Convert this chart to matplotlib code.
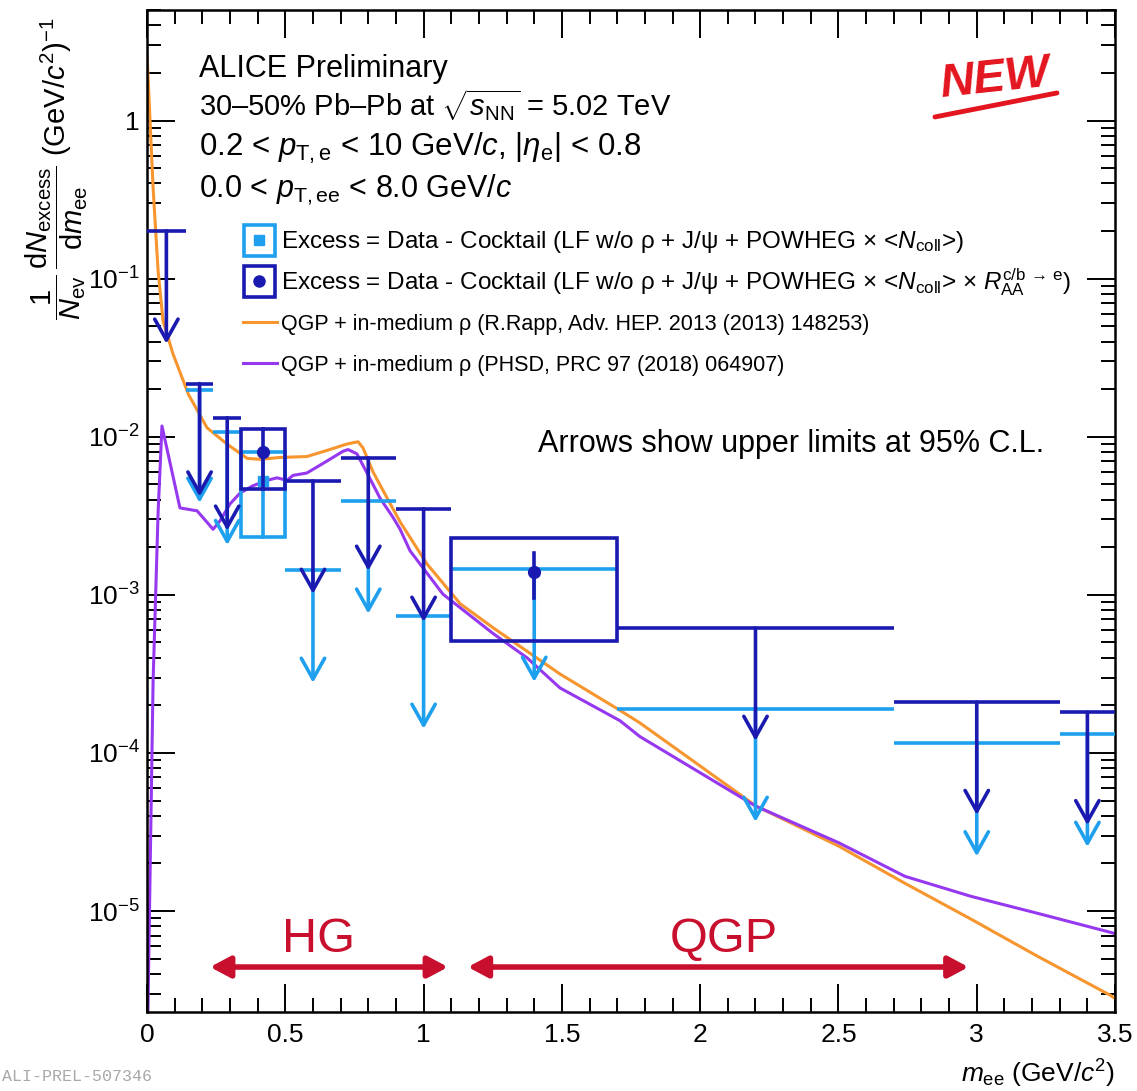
import numpy as np
import matplotlib
matplotlib.use("Agg")
import matplotlib.pyplot as plt
from matplotlib.patches import Rectangle
from matplotlib.lines import Line2D
from matplotlib.ticker import MultipleLocator, LogLocator, FuncFormatter, NullFormatter
import matplotlib.patheffects as pe

plt.rcParams["font.family"] = ["Liberation Sans", "DejaVu Sans"]
plt.rcParams["mathtext.fontset"] = "custom"
plt.rcParams["mathtext.rm"] = "Liberation Sans"
plt.rcParams["mathtext.it"] = "Liberation Sans:italic"
plt.rcParams["mathtext.bf"] = "Liberation Sans:bold"
plt.rcParams["mathtext.sf"] = "Liberation Sans"

# ---------------------------------------------------------------- data
# invariant-mass bins (GeV/c^2)
bin_lo = [0.00, 0.14, 0.24, 0.34, 0.50, 0.70, 0.90, 1.10, 1.70, 2.70, 3.30]
bin_hi = [0.14, 0.24, 0.34, 0.50, 0.70, 0.90, 1.10, 1.70, 2.70, 3.30, 3.50]
bin_ctr = [0.07, 0.19, 0.29, 0.42, 0.60, 0.80, 1.00, 1.40, 2.20, 3.00, 3.40]

nan = np.nan
# 95% C.L. upper limits (NaN where a value is measured)
ul_pow = [nan, 0.0198, 0.0107, nan, 0.00144, 0.00394, 0.000737, 0.00146, 0.000190, 0.000115, 0.000132]
ul_raa = [0.201, 0.0217, 0.0132, nan, 0.00526, 0.00736, 0.00350, nan, 0.000618, 0.000210, 0.000181]

# measured excess points: bin index, value, stat. band, syst. box
meas_pow_bin = [3]
meas_pow_val = [0.00526]
meas_pow_stat_lo = [0.00232]
meas_pow_stat_hi = [0.0080]
meas_pow_sys_lo = [0.00232]
meas_pow_sys_hi = [0.0080]

meas_raa_bin = [3, 7]
meas_raa_val = [0.0080, 0.00139]
meas_raa_stat_lo = [0.0047, 0.00096]
meas_raa_stat_hi = [0.0112, 0.00184]
meas_raa_sys_lo = [0.00468, 0.000512]
meas_raa_sys_hi = [0.0112, 0.00229]

# model curves
rapp_m = [0.0, 0.011, 0.022, 0.040, 0.058, 0.094, 0.15, 0.217, 0.289, 0.362, 0.409,
          0.481, 0.578, 0.651, 0.723, 0.763, 0.781, 0.817, 0.868, 0.915, 1.012,
          1.132, 1.251, 1.374, 1.493, 1.71, 1.782, 2.202, 2.502, 2.74, 2.979,
          3.218, 3.482, 3.5]
rapp_y = [2.65, 0.99, 0.376, 0.112, 0.054, 0.0334, 0.0185, 0.0114, 0.0090, 0.0073, 0.0072,
          0.0074, 0.0075, 0.0082, 0.0090, 0.0093, 0.0085, 0.0060, 0.0041, 0.0029, 0.00157,
          0.00088, 0.00062, 0.00044, 0.000316, 0.000186, 0.000155, 4.62e-5, 2.57e-5, 1.5e-5, 8.9e-6,
          5.2e-6, 2.94e-6, 2.8e-6]

phsd_m = [0.0, 0.004, 0.022, 0.040, 0.054, 0.119, 0.181, 0.239, 0.264, 0.300, 0.336,
          0.383, 0.434, 0.470, 0.506, 0.528, 0.578, 0.625, 0.672, 0.709, 0.727,
          0.759, 0.817, 0.842, 0.889, 0.915, 0.951, 1.070, 1.251, 1.374, 1.493,
          1.71, 1.782, 2.2, 2.502, 2.74, 2.979, 3.218, 3.482, 3.5]
phsd_y = [1e-6, 2.8e-6, 2.85e-4, 3.3e-3, 0.0117, 0.00355, 0.0034, 0.0026, 0.00294, 0.00376, 0.0044,
          0.0049, 0.0053, 0.0055, 0.0053, 0.0057, 0.0059, 0.0066, 0.0074, 0.0081, 0.0083,
          0.0078, 0.0050, 0.0041, 0.0031, 0.0026, 0.0019, 0.00101, 0.00057, 0.00040, 0.000258,
          0.000160, 0.000127, 4.62e-5, 2.7e-5, 1.66e-5, 1.24e-5, 9.7e-6, 7.35e-6, 7.2e-6]

# ---------------------------------------------------------------- style
C_POW = "#1ea0ee"
C_RAA = "#1a1ab0"
C_RAPP = "#f7952e"
C_PHSD = "#9638f0"
C_RED = "#c8102e"
LW = 2.6
ARROW_FACTOR = 0.193   # arrow tip = limit * factor (fixed length on log axis)

fig = plt.figure(figsize=(11.37, 10.91), dpi=100)
ax = fig.add_axes([0.1293, 0.0724, 0.8514, 0.9184])
ax.set_xlim(0, 3.5)
ax.set_yscale("log")
ax.set_ylim(2.3e-6, 5.0)

# model curves
ax.plot(rapp_m, rapp_y, color=C_RAPP, lw=2.2, zorder=2)
ax.plot(phsd_m, phsd_y, color=C_PHSD, lw=2.2, zorder=2)


def draw_limits(limits, color, z):
    for lo, hi, xc, cap in zip(bin_lo, bin_hi, bin_ctr, limits):
        if np.isnan(cap):
            continue
        ax.plot([lo, hi], [cap, cap], color=color, lw=LW, solid_capstyle="butt", zorder=z)
        ax.annotate("", xy=(xc, cap * ARROW_FACTOR), xytext=(xc, cap),
                    arrowprops=dict(arrowstyle="->,head_length=0.75,head_width=0.42",
                                    color=color, lw=LW, shrinkA=0, shrinkB=0,
                                    mutation_scale=20),
                    zorder=z)


def draw_measured(bins, vals, slo, shi, ylo, yhi, color, marker, ms, z):
    for b, v, s0, s1, y0, y1 in zip(bins, vals, slo, shi, ylo, yhi):
        lo, hi, xc = bin_lo[b], bin_hi[b], bin_ctr[b]
        ax.add_patch(Rectangle((lo, y0), hi - lo, y1 - y0, fill=False,
                               ec=color, lw=LW, zorder=z))
        ax.plot([xc, xc], [s0, s1], color=color, lw=LW, zorder=z)
        ax.plot([xc], [v], marker=marker, ms=ms, color=color, mec=color, zorder=z + 0.1)


draw_limits(ul_pow, C_POW, 3)
draw_measured(meas_pow_bin, meas_pow_val, meas_pow_stat_lo, meas_pow_stat_hi,
              meas_pow_sys_lo, meas_pow_sys_hi, C_POW, "s", 7, 3)
draw_limits(ul_raa, C_RAA, 4)
draw_measured(meas_raa_bin, meas_raa_val, meas_raa_stat_lo, meas_raa_stat_hi,
              meas_raa_sys_lo, meas_raa_sys_hi, C_RAA, "o", 8.5, 4)

# ---------------------------------------------------------------- axes
ax.xaxis.set_major_locator(MultipleLocator(0.5))
ax.xaxis.set_minor_locator(MultipleLocator(0.1))
ax.xaxis.set_major_formatter(FuncFormatter(lambda v, p: "%g" % v))
ax.yaxis.set_major_locator(LogLocator(base=10, numticks=20))
ax.yaxis.set_minor_locator(LogLocator(base=10, subs=np.arange(2, 10), numticks=20))
ax.yaxis.set_minor_formatter(NullFormatter())


def yfmt(v, p):
    e = int(round(np.log10(v)))
    return "1" if e == 0 else r"$10^{%d}$" % e


ax.yaxis.set_major_formatter(FuncFormatter(yfmt))
ax.tick_params(which="both", direction="in", top=True, right=True, width=1.4, labelsize=19)
ax.tick_params(which="major", length=20)
ax.tick_params(which="minor", length=10)
ax.tick_params(axis="x", pad=8)
ax.tick_params(axis="y", pad=5)
for s in ax.spines.values():
    s.set_linewidth(1.8)

ax.text(1.0, -0.07, r"$m_{\rm ee}$ (GeV/$c^{2}$)", transform=ax.transAxes,
        ha="right", va="baseline", fontsize=19)
fig.text(0.050, 0.984,
         r"$\dfrac{1}{N_{\rm ev}}\,\dfrac{{\rm d}N_{\rm excess}}{{\rm d}m_{\rm ee}}$ (GeV/$c^{2}$)$^{-1}$",
         rotation=90, ha="center", va="top", fontsize=21)

# ---------------------------------------------------------------- labels
tx = 0.0537
ax.text(tx, 0.933, "ALICE Preliminary", transform=ax.transAxes, fontsize=22, va="baseline")
ax.text(tx, 0.894, r"30–50% Pb–Pb at $\sqrt{s_{\rm NN}}$ = 5.02 TeV",
        transform=ax.transAxes, fontsize=21, va="baseline")
ax.text(tx, 0.854, r"0.2 < $p_{\rm T,e}$ < 10 GeV/$c$, |$\eta_{\rm e}$| < 0.8",
        transform=ax.transAxes, fontsize=22.5, va="baseline")
ax.text(tx, 0.813, r"0.0 < $p_{\rm T,ee}$ < 8.0 GeV/$c$",
        transform=ax.transAxes, fontsize=22, va="baseline")

# legend
leg_rows = [0.7625, 0.7216, 0.6806, 0.6397]
leg_size = [17.5, 17.5, 15.5, 15.5]
leg_text = [
    r"Excess = Data - Cocktail (LF w/o ρ + J/ψ + POWHEG × <$N_{\rm coll}$>)",
    r"Excess = Data - Cocktail (LF w/o ρ + J/ψ + POWHEG × <$N_{\rm coll}$> × $R_{\rm AA}^{\rm c/b\,\rightarrow\,e}$)",
    "QGP + in-medium ρ (R.Rapp, Adv. HEP. 2013 (2013) 148253)",
    "QGP + in-medium ρ (PHSD, PRC 97 (2018) 064907)",
]
icon_x = 0.1157
for i, (yb, t, fs) in enumerate(zip(leg_rows, leg_text, leg_size)):
    ax.text(0.1384, yb, t, transform=ax.transAxes, fontsize=fs, va="baseline")
    yc = yb + 0.0078
    if i < 2:
        col = C_POW if i == 0 else C_RAA
        ax.add_patch(Rectangle((icon_x - 0.0160, yc - 0.0155), 0.032, 0.031,
                               transform=ax.transAxes, fill=False, ec=col, lw=LW))
        ax.plot([icon_x], [yc], transform=ax.transAxes, marker="s" if i == 0 else "o",
                ms=7 if i == 0 else 8, color=col, clip_on=False)
    else:
        col = C_RAPP if i == 2 else C_PHSD
        ax.plot([0.0992, 0.1343], [yc, yc], transform=ax.transAxes, color=col, lw=2.2)

ax.text(0.404, 0.559, "Arrows show upper limits at 95% C.L.", transform=ax.transAxes,
        fontsize=22, va="baseline")

# HG / QGP regions
shadow = [pe.SimplePatchShadow(offset=(1.5, -1.5), alpha=0.35), pe.Normal()]
for (x0, x1) in [(0.228, 1.088), (1.16, 2.97)]:
    ax.annotate("", xy=(x0, 0.0449), xytext=(x1, 0.0449),
                xycoords=ax.get_xaxis_transform(), textcoords=ax.get_xaxis_transform(),
                arrowprops=dict(arrowstyle="<|-|>,head_length=0.6,head_width=0.32",
                                color=C_RED, lw=4.0, shrinkA=0, shrinkB=0,
                                mutation_scale=20, path_effects=shadow))
ax.text(0.1767, 0.0599, "HG", transform=ax.transAxes, fontsize=35, color=C_RED,
        ha="center", va="baseline")
ax.text(0.596, 0.0599, "QGP", transform=ax.transAxes, fontsize=35, color=C_RED,
        ha="center", va="baseline")

# stamp
fig.text(0.875, 0.927, "NEW", fontsize=34, fontweight="heavy", style="italic",
         color="#e3151f", rotation=6, ha="center", va="center")
fig.add_artist(Line2D([0.8223, 0.9296], [0.8928, 0.9148], transform=fig.transFigure,
                      color="#e3151f", lw=3.5, solid_capstyle="round"))

fig.text(0.002, 0.006, "ALI-PREL-507346", family="Liberation Mono", fontsize=12,
         color="#a8a8a8", ha="left", va="bottom")

fig.savefig("out.png", dpi=100)
